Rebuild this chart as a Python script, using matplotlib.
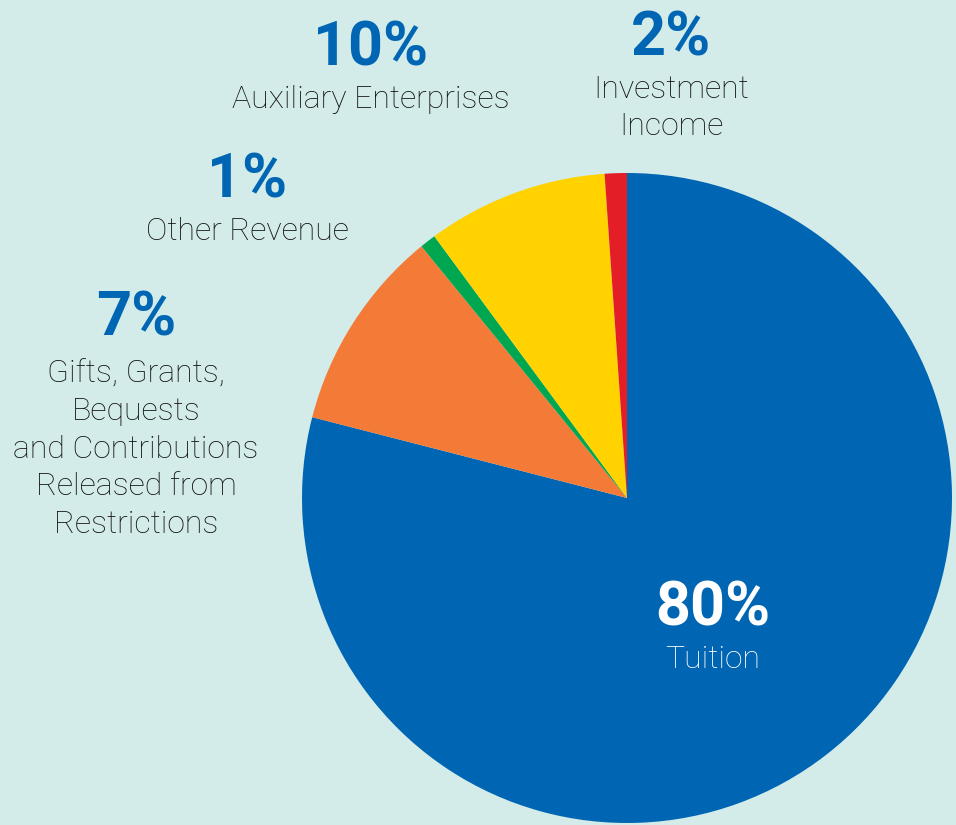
import matplotlib
matplotlib.use("Agg")
import matplotlib.pyplot as plt

# -----------------------------------------------------------------------------
# Data (shares as drawn in the picture, labels as printed)
# -----------------------------------------------------------------------------

categories = ["Tuition", "Gifts, Grants, Bequests and Contributions Released from Restrictions",
              "Other Revenue", "Auxiliary Enterprises", "Investment Income"]
shares = [79.0, 10.1, 0.8, 9.0, 1.1]
pctLabels = ["80%", "7%", "1%", "10%", "2%"]
nameLabels = ["Tuition",
              "Gifts, Grants,\nBequests\nand Contributions\nReleased from\nRestrictions",
              "Other Revenue",
              "Auxiliary Enterprises",
              "Investment\nIncome"]
colors = ["#0066b3", "#f47a38", "#00a650", "#ffd200", "#e31e26"]

bg = "#d3ecea"
W, H = 956, 825

fig = plt.figure(figsize=(W / 100, H / 100), dpi=100, facecolor=bg)
ax = fig.add_axes([0, 0, 1, 1])
ax.set_facecolor(bg)

ax.pie(shares, colors=colors, startangle=90, counterclock=False,
       center=(627, H - 498), radius=325, frame=True,
       wedgeprops={"linewidth": 0})
ax.set_xlim(0, W)
ax.set_ylim(0, H)
ax.set_aspect("equal")
ax.axis("off")

# label positions in pixels from top-left: (x, y of percent, y of name)
pos = [(713, 608, 660), (136, 318, 449), (247, 180, 232), (371, 48, 100), (671, 38, 108)]
fam = ["Roboto", "DejaVu Sans"]

for i, (x, yp, yn) in enumerate(pos):
    c1 = "white" if i == 0 else "#0066b3"
    c2 = "white" if i == 0 else "#111111"
    ax.text(x, H - yp, pctLabels[i], ha="center", va="center", fontsize=44,
            fontweight="bold", color=c1, family=fam)
    ax.text(x, H - yn, nameLabels[i], ha="center", va="center", fontsize=23,
            fontweight="light", color=c2, family=fam, linespacing=1.37)

fig.savefig("out.png", dpi=100, facecolor=bg)
